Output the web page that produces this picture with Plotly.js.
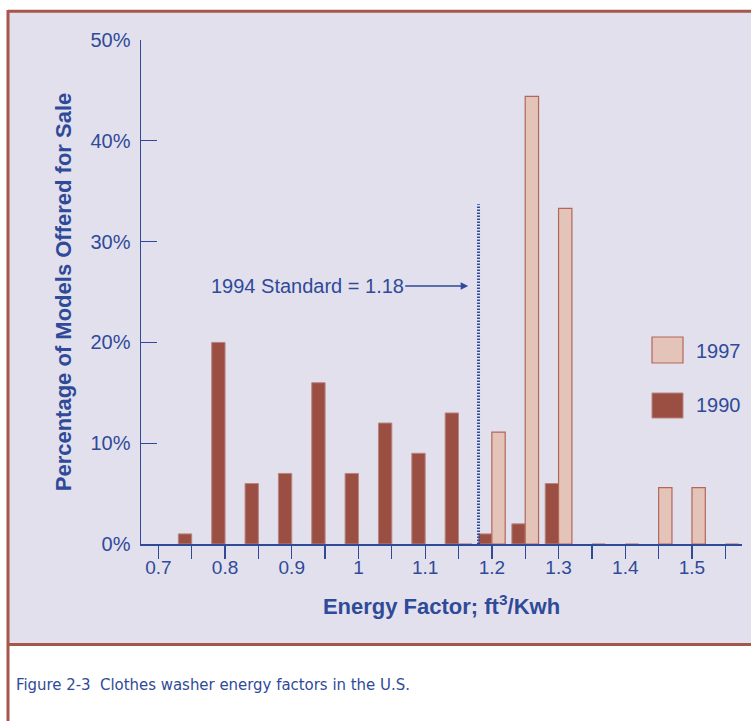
<!DOCTYPE html>
<html>
<head>
<meta charset="utf-8">
<script src="https://cdn.plot.ly/plotly-3.0.1.min.js"></script>
<style>
  html, body { margin: 0; padding: 0; background: #ffffff; }
  #chart { width: 751px; height: 721px; }
</style>
</head>
<body>
<div id="chart"></div>
<script>
// ---- data ----
const bins1990 = [0.75, 0.80, 0.85, 0.90, 0.95, 1.00, 1.05, 1.10, 1.15, 1.20, 1.25, 1.30];
const values1990 = [1, 20, 6, 7, 16, 7, 12, 9, 13, 1, 2, 6];
const bins1997 = [1.15, 1.20, 1.25, 1.30, 1.35, 1.40, 1.45, 1.50, 1.55];
const values1997 = [0, 11.1, 44.4, 33.3, 0, 0, 5.6, 5.6, 0];
const xTickVals = [0.7, 0.8, 0.9, 1.0, 1.1, 1.2, 1.3, 1.4, 1.5];
const xTickText = ['0.7', '0.8', '0.9', '1', '1.1', '1.2', '1.3', '1.4', '1.5'];
const xMinorTickVals = [0.75, 0.85, 0.95, 1.05, 1.15, 1.25, 1.35, 1.45, 1.55];
const yTickVals = [0, 10, 20, 30, 40, 50];
const yTickText = ['0%', '10%', '20%', '30%', '40%', '50%'];
const standardValue = 1.18;
const standardLineTop = 33.7;
const standardLabel = '1994 Standard = 1.18';
const seriesNames = ['1997', '1990'];
const captionText = 'Figure 2-3\u00a0\u00a0Clothes washer energy factors in the U.S.';

// ---- style ----
const BLUE = '#2f4a98';
const DARK = '#9a4f42';
const LIGHT = '#e4c4b8';
const LIGHT_EDGE = '#b3675a';
const PANEL = '#e2e0ed';
const BORDER = '#a5574b';
const FONT = 'Liberation Sans, Arial, Helvetica, sans-serif';
const BAR_W = 0.02;

const trace1990 = {
  type: 'bar', name: seriesNames[1],
  x: bins1990, y: values1990,
  width: BAR_W, offset: -BAR_W,
  marker: { color: DARK, line: { color: '#b88580', width: 1 } },
  hoverinfo: 'x+y'
};
const trace1997 = {
  type: 'bar', name: seriesNames[0],
  x: bins1997, y: values1997,
  width: BAR_W, offset: 0,
  marker: { color: LIGHT, line: { color: LIGHT_EDGE, width: 1.2 } },
  hoverinfo: 'x+y'
};

// plot-area pixel geometry (for paper-referenced decorations)
const W = 751, H = 721;
const mL = 141, mR = 9, mT = 40, mB = 177;
const pw = W - mL - mR, ph = H - mT - mB;
const px = v => (v - mL) / pw;          // page x(px) -> paper
const py = v => (H - mB - v) / ph;      // page y(px) -> paper

const shapes = [
  { type: 'rect', xref: 'paper', yref: 'paper', layer: 'below',
    x0: px(8), x1: px(770), y0: py(645), y1: py(11),
    fillcolor: PANEL, line: { width: 0 } },
  { type: 'line', xref: 'paper', yref: 'paper', layer: 'below',
    x0: px(8), x1: px(770), y0: py(11.3), y1: py(11.3), line: { color: BORDER, width: 3 } },
  { type: 'line', xref: 'paper', yref: 'paper', layer: 'below',
    x0: px(8), x1: px(770), y0: py(644.5), y1: py(644.5), line: { color: BORDER, width: 3 } },
  { type: 'line', xref: 'paper', yref: 'paper', layer: 'below',
    x0: px(8), x1: px(8), y0: py(10), y1: py(730), line: { color: BORDER, width: 3 } },
  { type: 'line', xref: 'x', yref: 'y', layer: 'above',
    x0: standardValue, x1: standardValue, y0: 0, y1: standardLineTop,
    line: { color: BLUE, width: 3, dash: '1.6px,1.4px' } },
  { type: 'rect', xref: 'paper', yref: 'paper',
    x0: px(652), x1: px(683), y0: py(363), y1: py(337),
    fillcolor: LIGHT, line: { color: LIGHT_EDGE, width: 1.2 } },
  { type: 'rect', xref: 'paper', yref: 'paper',
    x0: px(652), x1: px(683), y0: py(418), y1: py(393),
    fillcolor: DARK, line: { color: '#b88580', width: 1 } }
];

const annotations = [
  { x: standardValue - 0.0155, y: 25.6, xref: 'x', yref: 'y',
    text: standardLabel, showarrow: true, ax: -161, ay: 0,
    arrowhead: 2, arrowsize: 1, arrowwidth: 1.5, arrowcolor: BLUE,
    font: { family: FONT, size: 20, color: BLUE } },
  { x: px(694), y: py(351), xref: 'paper', yref: 'paper', xanchor: 'left', yanchor: 'middle',
    text: seriesNames[0], showarrow: false, font: { family: FONT, size: 20, color: BLUE } },
  { x: px(694), y: py(405), xref: 'paper', yref: 'paper', xanchor: 'left', yanchor: 'middle',
    text: seriesNames[1], showarrow: false, font: { family: FONT, size: 20, color: BLUE } },
  { x: px(14), y: py(684), xref: 'paper', yref: 'paper', xanchor: 'left', yanchor: 'middle',
    text: captionText, showarrow: false,
    font: { family: 'DejaVu Sans Condensed, Liberation Sans Narrow, sans-serif', size: 16.6, color: BLUE } }
];

const layout = {
  width: W, height: H,
  margin: { l: mL, r: mR, t: mT, b: mB, pad: 0 },
  paper_bgcolor: '#ffffff',
  plot_bgcolor: 'rgba(0,0,0,0)',
  showlegend: false,
  barmode: 'overlay',
  font: { family: FONT, color: BLUE },
  xaxis: {
    range: [0.674, 1.575],
    tickmode: 'array', tickvals: xTickVals, ticktext: xTickText,
    ticks: 'outside', ticklen: 13, tickwidth: 1.3, tickcolor: BLUE,
    minor: { tickmode: 'array', tickvals: xMinorTickVals, ticks: 'outside',
             ticklen: 13, tickwidth: 1.3, tickcolor: BLUE, showgrid: false },
    showline: true, linecolor: BLUE, linewidth: 1.5,
    showgrid: false, zeroline: false,
    tickfont: { family: FONT, size: 19, color: BLUE },
    ticklabelstandoff: -7,
    title: { text: 'Energy Factor; ft<sup>3</sup>/Kwh', standoff: 21,
             font: { family: FONT, size: 22, color: BLUE, weight: 'bold' } },
    fixedrange: true
  },
  yaxis: {
    range: [0, 50],
    tickmode: 'array', tickvals: yTickVals, ticktext: yTickText,
    ticks: 'inside', ticklen: 16, tickwidth: 1.3, tickcolor: BLUE,
    showline: true, linecolor: BLUE, linewidth: 1.5,
    showgrid: false, zeroline: false,
    tickfont: { family: FONT, size: 20, color: BLUE },
    ticklabelstandoff: 5,
    title: { text: 'Percentage of Models Offered for Sale', standoff: 13,
             font: { family: FONT, size: 22, color: BLUE, weight: 'bold' } },
    fixedrange: true
  },
  shapes: shapes,
  annotations: annotations
};

Plotly.newPlot('chart', [trace1990, trace1997], layout, { displayModeBar: false, staticPlot: true });
</script>
</body>
</html>
